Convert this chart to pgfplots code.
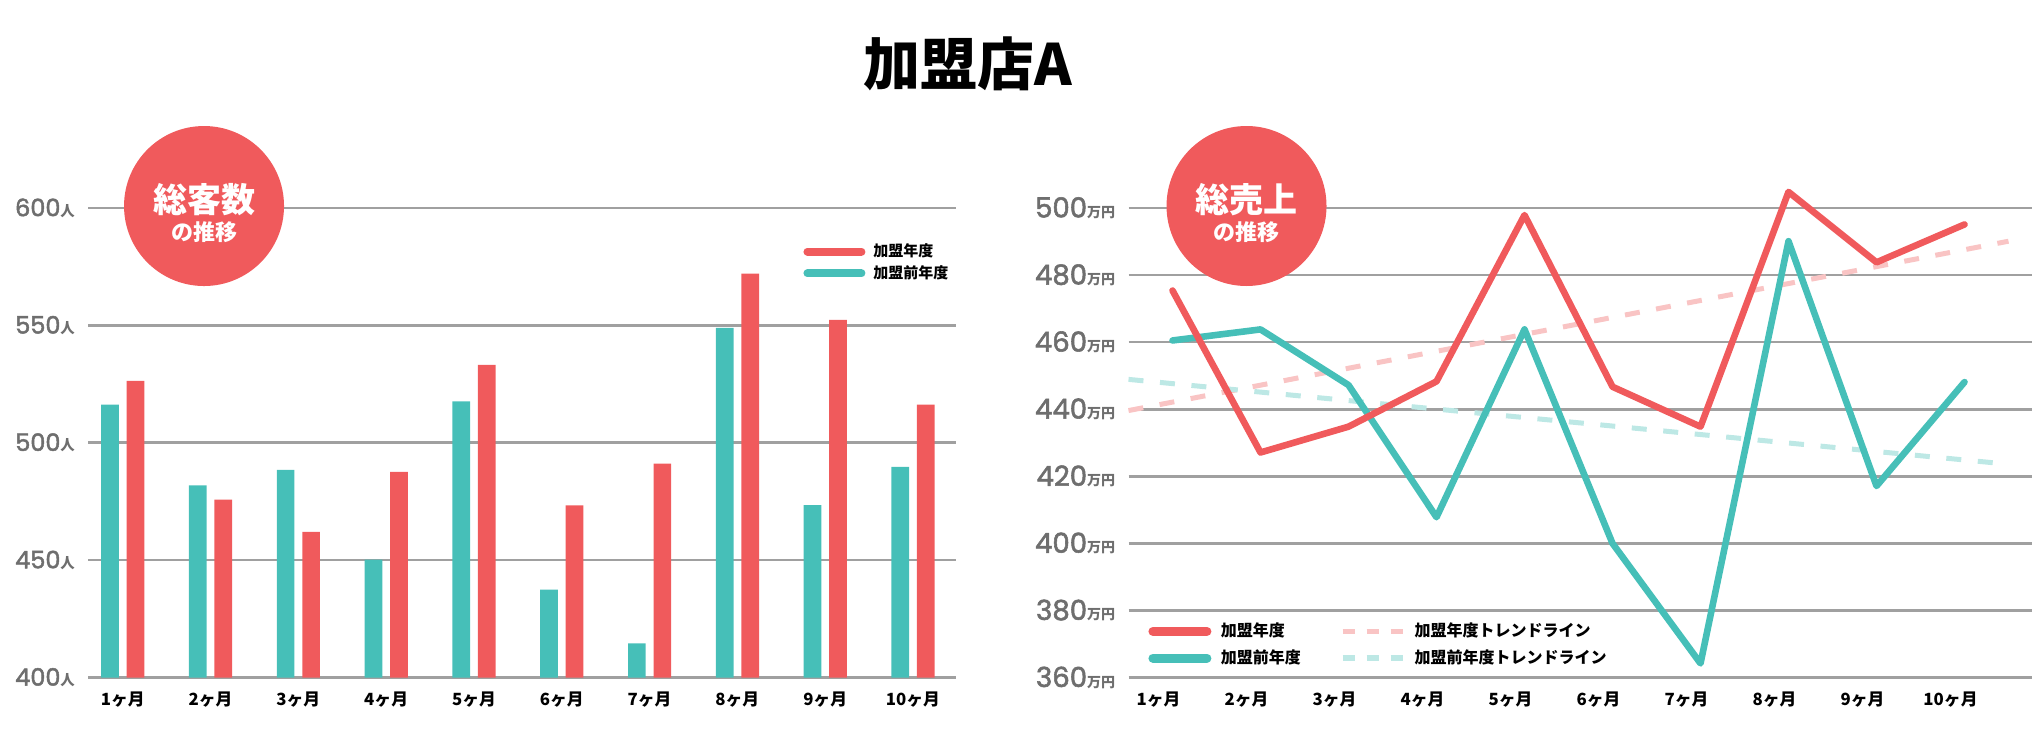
\documentclass[border=0pt]{standalone}
\usepackage{fontspec}
\usepackage{pgfplots}
\pgfplotsset{compat=1.18}
\newfontfamily\cjk{Noto Sans CJK JP}
\newfontfamily\numfont{Poppins}[FakeBold=2]

\definecolor{redc}{HTML}{F05A5C}
\definecolor{tealc}{HTML}{46BFB8}
\definecolor{pinkc}{HTML}{F9C4C4}
\definecolor{lteal}{HTML}{BDE8E5}
\definecolor{gridc}{HTML}{A0A0A0}
\definecolor{tickc}{HTML}{6E6E6E}

% y tick labels: number + small unit
\newcommand\yl[1]{{\numfont\fontsize{12}{13}\selectfont #1}{\cjk\bfseries\fontsize{7.2}{8}\selectfont 人}}
\newcommand\yr[1]{{\numfont\fontsize{13.8}{15}\selectfont #1}{\cjk\bfseries\fontsize{7}{8}\selectfont 万円}}

\pgfplotsset{
  panel/.style={
    scale only axis, anchor=south west,
    axis line style={draw=none}, major tick length=0pt,
    ymajorgrids, grid style={gridc, line width=1.3pt},
    xtick={1,...,10},
    xticklabels={1ヶ月,2ヶ月,3ヶ月,4ヶ月,5ヶ月,6ヶ月,7ヶ月,8ヶ月,9ヶ月,10ヶ月},
    xticklabel style={font=\cjk\bfseries\fontsize{8.4}{9}\selectfont, anchor=center, inner sep=0pt, yshift=-10.9pt},
    yticklabel style={anchor=east, inner sep=0pt, xshift=-6.5pt, text=tickc},
    legend cell align=left,
  },
  lg/.style={legend image code/.code={\draw[#1, line cap=round] (2pt,0pt) -- (29pt,0pt);}},
}

\begin{document}
\begin{tikzpicture}
\path[use as bounding box] (0pt,0pt) rectangle (1020pt,-373pt);

% ---------- left: 総客数 ----------
\begin{axis}[panel, name=L,
  at={(44.15pt,-338.75pt)}, width=433.85pt, height=234.75pt,
  xmin=0.608, xmax=10.49, ymin=400, ymax=600,
  ytick={400,450,500,550,600},
  yticklabels={\yl{400},\yl{450},\yl{500},\yl{550},\yl{600}},
  legend style={at={(0.8237,0.925)}, anchor=north west, draw=none, fill=none,
    inner sep=0pt, font=\cjk\bfseries\fontsize{7.5}{8}\selectfont, row sep=3pt,
    nodes={inner sep=0pt},
    /tikz/every odd column/.style={column sep=4pt}},
]
\addplot[ybar, bar width=8.85pt, bar shift=-6.35pt, fill=tealc, draw=none, forget plot]
  coordinates {(1,516.3) (2,481.8) (3,488.5) (4,450.2) (5,517.6) (6,437.4) (7,414.5) (8,548.9) (9,473.4) (10,489.7)};
\addplot[ybar, bar width=8.85pt, bar shift=6.4pt, fill=redc, draw=none, forget plot]
  coordinates {(1,526.4) (2,475.8) (3,462.0) (4,487.6) (5,533.2) (6,473.3) (7,491.1) (8,572.1) (9,552.3) (10,516.3)};
\addlegendimage{lg, redc, line width=4pt}
\addlegendentry{加盟年度}
\addlegendimage{lg, tealc, line width=4pt}
\addlegendentry{加盟前年度}
\coordinate (cl) at (axis cs:1.926,600.85);
\end{axis}

% ---------- right: 総売上 ----------
\begin{axis}[panel, name=R,
  at={(564.25pt,-338.75pt)}, width=451.75pt, height=234.75pt,
  xmin=0.5, xmax=10.767, ymin=360, ymax=500, clip=false,
  ytick={360,380,...,500},
  yticklabels={\yr{360},\yr{380},\yr{400},\yr{420},\yr{440},\yr{460},\yr{480},\yr{500}},
  xticklabel style={xshift=-7pt},
  legend columns=2,
  legend style={at={(0.0216,0.117)}, anchor=north west, draw=none, fill=none,
    inner sep=0pt, font=\cjk\bfseries\fontsize{8}{9}\selectfont, row sep=5pt,
    nodes={inner sep=0pt},
    /tikz/every odd column/.style={column sep=4.7pt},
    /tikz/every even column/.style={column sep=19.5pt}},
]
% trend lines (linear fits)
\addplot[pinkc, line width=2.5pt, dash pattern=on 7.5pt off 8.3pt, forget plot]
  coordinates {(0.5,439.6) (10.5,490.1)};
\addplot[lteal, line width=2.5pt, dash pattern=on 7.5pt off 8.3pt, forget plot]
  coordinates {(0.5,448.9) (10.5,423.6)};
\addplot[tealc, line width=3.3pt, line join=round, line cap=round, forget plot]
  coordinates {(1,460.5) (2,463.8) (3,447.2) (4,407.8) (5,463.8) (6,400.0) (7,364.2) (8,490.1) (9,417.1) (10,448.1)};
\addplot[redc, line width=3.3pt, line join=round, line cap=round, forget plot]
  coordinates {(1,475.4) (2,427.1) (3,434.8) (4,448.3) (5,497.9) (6,446.7) (7,434.8) (8,504.8) (9,483.8) (10,495.1)};
\addlegendimage{lg, redc, line width=4.5pt}
\addlegendentry{加盟年度}
\addlegendimage{legend image code/.code={\draw[pinkc, line width=2.7pt, dash pattern=on 6pt off 6pt] (0pt,0pt) -- (30pt,0pt);}}
\addlegendentry{加盟年度トレンドライン}
\addlegendimage{lg, tealc, line width=4.5pt}
\addlegendentry{加盟前年度}
\addlegendimage{legend image code/.code={\draw[lteal, line width=2.7pt, dash pattern=on 6pt off 6pt] (0pt,0pt) -- (30pt,0pt);}}
\addlegendentry{加盟前年度トレンドライン}
\coordinate (cr) at (axis cs:1.841,500.6);
\end{axis}

% badges and title
\fill[redc] (cl) circle (40pt);
\node[text=white, font=\cjk\bfseries\fontsize{17}{18}\selectfont, yshift=3.25pt] at (cl) {総客数};
\node[text=white, font=\cjk\bfseries\fontsize{11}{12}\selectfont, yshift=-13pt] at (cl) {の推移};
\fill[redc] (cr) circle (40pt);
\node[text=white, font=\cjk\bfseries\fontsize{17}{18}\selectfont, yshift=3.25pt] at (cr) {総売上};
\node[text=white, font=\cjk\bfseries\fontsize{11}{12}\selectfont, yshift=-13pt] at (cr) {の推移};
\node[font=\cjk\bfseries\fontsize{28.5}{30}\selectfont] at (484pt,-32pt) {加盟店A};
\end{tikzpicture}
\end{document}
